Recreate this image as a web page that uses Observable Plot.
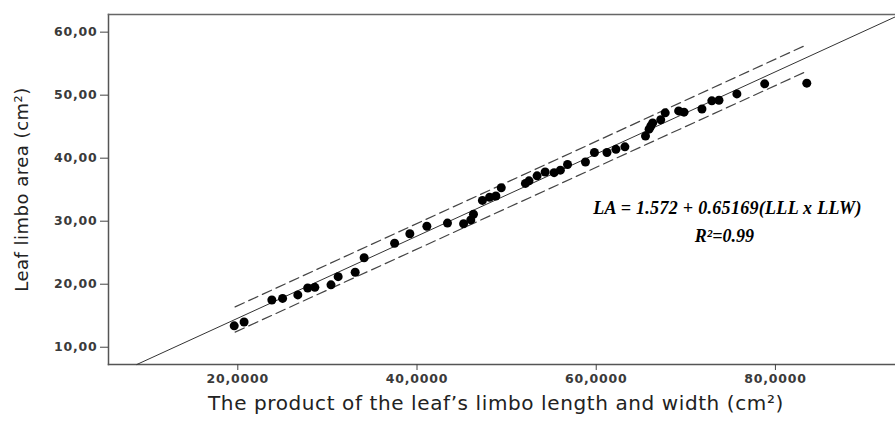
<!DOCTYPE html>
<html><head><meta charset="utf-8">
<script src="https://cdn.jsdelivr.net/npm/d3@7"></script>
<script src="https://cdn.jsdelivr.net/npm/@observablehq/plot@0.6"></script>
<style>
body{margin:0;background:#fff}
#chart svg g[aria-label^="y-axis tick label"] text,
#chart svg g[aria-label^="x-axis tick label"] text{letter-spacing:0.8px}
</style>
</head><body><div id="chart"></div>
<script>
// Observed points: product of leaf limbo length × width (cm²) vs leaf limbo area (cm²)
const lllxllw = [19.6,20.7,23.8,25.0,26.7,27.8,28.6,30.4,31.2,33.1,34.1,37.5,39.2,41.1,43.4,45.2,46.0,46.3,47.3,48.1,48.8,49.4,52.1,52.5,53.4,54.3,55.3,56.0,56.8,58.8,59.8,61.2,62.2,63.2,65.5,65.9,66.1,66.3,67.2,67.7,69.2,69.8,71.8,72.9,73.7,75.7,78.8,83.5];
const leafArea = [13.4,14.0,17.5,17.75,18.3,19.4,19.5,19.9,21.2,21.9,24.2,26.5,28.0,29.2,29.7,29.6,30.2,31.1,33.3,33.8,34.0,35.3,36.0,36.4,37.2,37.8,37.7,38.1,39.0,39.4,40.9,40.9,41.4,41.8,43.5,44.6,45.1,45.6,46.1,47.2,47.5,47.3,47.8,49.1,49.2,50.2,51.8,51.9];

// Fitted line LA = 1.572 + 0.65169(LLL x LLW), endpoints as read
const fitX = [8.73, 93.4];
const fitY = [7.26, 62.44];

// Prediction band (dashed)
const bandX = [19.7, 83.5];
const upperY = [16.4, 58.0];
const lowerY = [12.4, 53.8];

// Axis ticks
const xTicks = [20, 40, 60, 80];
const yTicks = [10, 20, 30, 40, 50, 60];

// Annotation
const eqText = ["LA = 1.572 + 0.65169(LLL x LLW)", "R²=0.99"];
const eqX = [74.65, 74.3];
const eqY = [31.15, 26.7];

const points = lllxllw.map((x, i) => ({x, y: leafArea[i]}));
const fit = fitX.map((x, i) => ({x, y: fitY[i]}));
const upper = bandX.map((x, i) => ({x, y: upperY[i]}));
const lower = bandX.map((x, i) => ({x, y: lowerY[i]}));
const ann = eqText.map((t, i) => ({t, x: eqX[i], y: eqY[i]}));

const fmtY = d => d.toFixed(2).replace(".", ",");
const fmtX = d => d.toFixed(4).replace(".", ",");

const chart = Plot.plot({
  width: 895, height: 427,
  marginLeft: 108, marginTop: 14, marginBottom: 63, marginRight: 0,
  x: {domain: [5.57, 93.4]},
  y: {domain: [7.26, 62.8]},
  style: {fontFamily: "'DejaVu Sans', Verdana, sans-serif", background: "#fff", color: "#333"},
  marks: [
    Plot.frame({anchor: "left", stroke: "#555", strokeWidth: 1.5}),
    Plot.frame({anchor: "top", stroke: "#666", strokeWidth: 1.5}),
    Plot.frame({anchor: "bottom", stroke: "#555", strokeWidth: 1.5}),
    Plot.axisY({ticks: yTicks, tickFormat: fmtY, tickSize: 8, tickPadding: 3, fontSize: 12.5, fontWeight: "bold", fill: "#3a3a3a", label: null, stroke: "#444"}),
    Plot.axisX({ticks: xTicks, tickFormat: fmtX, tickSize: 6, tickPadding: 4, fontSize: 12.5, fontWeight: "bold", fill: "#3a3a3a", label: null, stroke: "#444"}),
    Plot.line(fit, {x: "x", y: "y", stroke: "#333", strokeWidth: 1}),
    Plot.line(upper, {x: "x", y: "y", stroke: "#444", strokeWidth: 1.2, strokeDasharray: "10,5"}),
    Plot.line(lower, {x: "x", y: "y", stroke: "#444", strokeWidth: 1.2, strokeDasharray: "10,5"}),
    Plot.dot(points, {x: "x", y: "y", r: 4.5, fill: "#000", stroke: "none"}),
    Plot.text(ann, {x: "x", y: "y", text: "t", lineAnchor: "bottom", textAnchor: "middle",
      fontFamily: "'Liberation Serif', 'Times New Roman', serif", fontStyle: "italic", fontWeight: "bold", fontSize: 18, fill: "#000",
      style: "letter-spacing:0.3px"}),
    Plot.text(["Leaf limbo area (cm²)"], {frameAnchor: "left", dx: -86, rotate: -90, textAnchor: "middle", fontSize: 18, fill: "#222"}),
    Plot.text(["The product of the leaf’s limbo length and width (cm²)"], {frameAnchor: "bottom", dx: -6, dy: 45, textAnchor: "middle", fontSize: 20, fill: "#222"})
  ]
});
// slight letter spacing on axis titles to match the wider reference lettering
chart.querySelectorAll("g[aria-label='text'] text").forEach(t => {
  if (t.textContent.startsWith("The product")) t.style.letterSpacing = "0.6px";
  if (t.textContent.startsWith("Leaf limbo")) t.style.letterSpacing = "0.5px";
  if (t.textContent.startsWith("LA =")) t.style.letterSpacing = "0.3px";
});
document.getElementById("chart").append(chart);
</script>
</body></html>
